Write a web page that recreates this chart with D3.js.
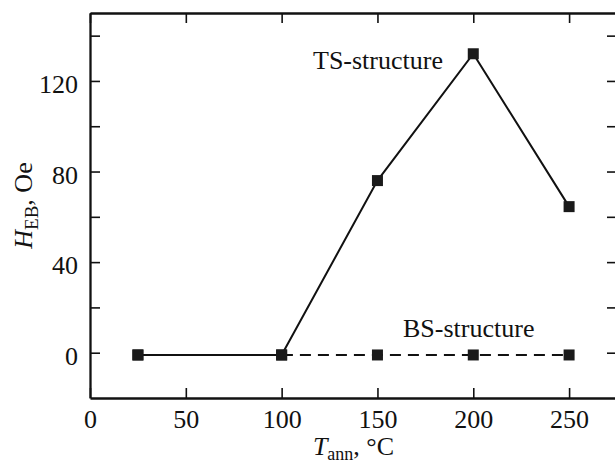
<!DOCTYPE html>
<html>
<head>
<meta charset="utf-8">
<script src="https://cdn.jsdelivr.net/npm/d3@7"></script>
<style>
  body { margin: 0; background: #fff; }
  svg { display: block; font-family: "Liberation Serif", "Times New Roman", serif; }
</style>
</head>
<body>
<div id="chart"></div>
<script>
// data
const temps = [25, 100, 150, 200, 250]
const tsValues = [-1, -1, 76, 132, 64.5]
const bsValues = [-1, -1, -1, -1, -1]
const xTicks = [0, 50, 100, 150, 200, 250]
const yTicks = [0, 20, 40, 60, 80, 100, 120, 140]
const yLabelTicks = [0, 40, 80, 120]

const width = 615
const height = 464
const margin = { top: 13, right: -2, bottom: 66, left: 90 }
const boundedWidth = width - margin.left - margin.right
const boundedHeight = height - margin.top - margin.bottom

const svg = d3.select("#chart")
  .append("svg")
    .attr("width", width)
    .attr("height", height)

const bounds = svg.append("g")
    .attr("transform", `translate(${margin.left},${margin.top})`)

const xScale = d3.scaleLinear()
  .domain([0, 275])
  .range([0, boundedWidth])

const yScale = d3.scaleLinear()
  .domain([-20, 150])
  .range([boundedHeight, 0])

// axes (ticks pointing inward)
const fontSize = 26

const xAxis = bounds.append("g")
    .attr("transform", `translate(0,${boundedHeight})`)
    .call(d3.axisBottom(xScale).tickValues(xTicks).tickSizeInner(-10).tickSizeOuter(0).tickPadding(12))
const xAxisTop = bounds.append("g")
    .call(d3.axisTop(xScale).tickValues(xTicks).tickSizeInner(-10).tickSizeOuter(0).tickFormat(""))
const yAxis = bounds.append("g")
    .call(d3.axisLeft(yScale).tickValues(yTicks).tickSizeInner(-10).tickSizeOuter(0).tickPadding(12)
      .tickFormat(d => yLabelTicks.includes(d) ? d : ""))
const yAxisRight = bounds.append("g")
    .attr("transform", `translate(${boundedWidth},0)`)
    .call(d3.axisRight(yScale).tickValues(yTicks).tickSizeInner(-10).tickSizeOuter(0).tickFormat(""))

bounds.selectAll(".domain")
    .attr("stroke", "#111")
    .attr("stroke-width", 2.3)
bounds.selectAll(".tick line")
    .attr("stroke", "#111")
    .attr("stroke-width", 1.6)
bounds.selectAll(".tick text")
    .attr("fill", "#111")
    .style("font-family", "Liberation Serif")
    .style("font-size", `${fontSize}px`)
yAxis.selectAll(".tick text").attr("dy", "0.45em")

// lines
const line = d3.line()
  .x((d, i) => xScale(temps[i]))
  .y(d => yScale(d))

bounds.append("path")
    .datum(bsValues)
    .attr("d", line)
    .attr("fill", "none")
    .attr("stroke", "#111")
    .attr("stroke-width", 2)
    .attr("stroke-dasharray", "11 7")

bounds.append("path")
    .datum(tsValues)
    .attr("d", line)
    .attr("fill", "none")
    .attr("stroke", "#111")
    .attr("stroke-width", 2)

// markers
const size = 11
const drawMarkers = values => {
  bounds.append("g").selectAll("rect")
    .data(values)
    .join("rect")
      .attr("x", (d, i) => xScale(temps[i]) - size / 2)
      .attr("y", d => yScale(d) - size / 2)
      .attr("width", size)
      .attr("height", size)
      .attr("fill", "#1a1a1a")
}
drawMarkers(bsValues)
drawMarkers(tsValues)

// series labels
bounds.append("text")
    .attr("x", 313 - margin.left)
    .attr("y", 69 - margin.top)
    .attr("fill", "#111")
    .style("font-size", `${fontSize}px`)
    .text("TS-structure")

bounds.append("text")
    .attr("x", 403 - margin.left)
    .attr("y", 337 - margin.top)
    .attr("fill", "#111")
    .style("font-size", `${fontSize}px`)
    .text("BS-structure")

// axis labels
const xLabel = svg.append("text")
    .attr("x", margin.left + boundedWidth / 2)
    .attr("y", 455)
    .attr("text-anchor", "middle")
    .attr("fill", "#111")
    .style("font-size", `${fontSize}px`)
xLabel.append("tspan").style("font-style", "italic").text("T")
xLabel.append("tspan").attr("dy", 5).style("font-size", "18px").text("ann")
xLabel.append("tspan").attr("dy", -5).text(", °C")

const yLabel = svg.append("text")
    .attr("transform", `translate(32,${margin.top + boundedHeight / 2}) rotate(-90)`)
    .attr("text-anchor", "middle")
    .attr("fill", "#111")
    .style("font-size", `${fontSize}px`)
yLabel.append("tspan").style("font-style", "italic").text("H")
yLabel.append("tspan").attr("dy", 6).style("font-size", "19px").text("EB")
yLabel.append("tspan").attr("dy", -6).text(", Oe")
</script>
</body>
</html>
